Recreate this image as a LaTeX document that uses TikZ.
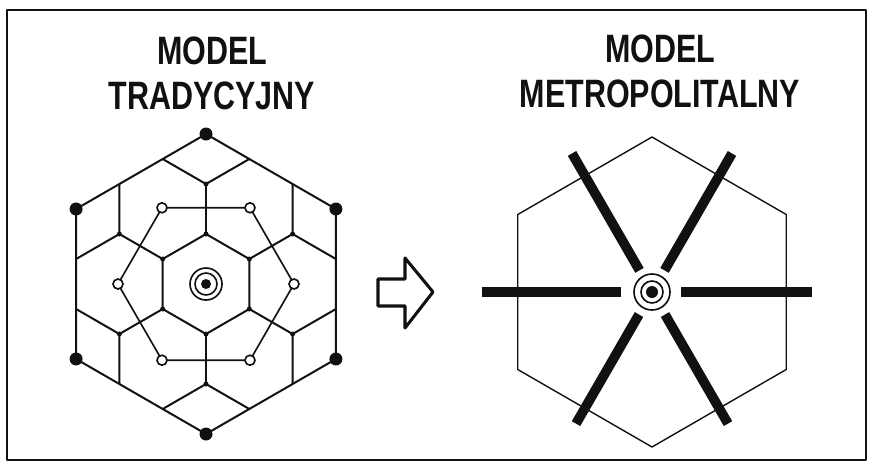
\documentclass[tikz,border=0pt]{standalone}
\usepackage{fontspec}
\setmainfont{Liberation Sans}
\usepackage{tikz}
\usetikzlibrary{calc}
\definecolor{sketchInk}{HTML}{111111}

\begin{document}
\begin{tikzpicture}[x=0.03cm,y=-0.03cm,line join=round,color=sketchInk,
    font=\fontsize{26}{29.5}\selectfont\bfseries,
    grid/.style={line width=1.7pt},
    ring/.style={line width=1.4pt},
    thinhex/.style={line width=1.2pt},
    road/.style={line width=8.3pt},
    title/.style={align=center,inner sep=0pt,yscale=1.3,transform shape}]
  \useasboundingbox (0,0) rectangle (871,466);
  \draw[line width=1.1pt] (7,10) rectangle (866,460);

  % titles
  \node[title] (lefttitle) at (212,73) {MODEL\\TRADYCYJNY};
  \node[title] (righttitle) at (660,71) {MODEL\\METROPOLITALNY};

  % traditional model: honeycomb clipped by the big hexagon
  \coordinate (lc) at (206,284);
  \foreach \k in {0,...,5}{
    \coordinate (in\k) at ($(lc)+(90+60*\k:50)$);
    \coordinate (mid\k) at ($(lc)+(90+60*\k:100)$);
    \coordinate (bl\k) at ($(lc)+(90+60*\k-19.107:132.29)$);
    \coordinate (br\k) at ($(lc)+(90+60*\k+19.107:132.29)$);
    \coordinate (out\k) at ($(lc)+(90+60*\k:150)$);
    \coordinate (town\k) at ($(lc)+(60*\k:88)$);
  }
  \draw[grid] (out0) -- (out1) -- (out2) -- (out3) -- (out4) -- (out5) -- cycle;
  \draw[grid] (in0) -- (in1) -- (in2) -- (in3) -- (in4) -- (in5) -- cycle;
  \foreach \k in {0,...,5}
    \draw[grid] (bl\k) -- (mid\k) -- (br\k) (mid\k) -- (in\k);
  \draw[ring] (town0) -- (town1) -- (town2) -- (town3) -- (town4) -- (town5) -- cycle;
  \foreach \k in {0,...,5}{
    \fill (out\k) circle[radius=6.5];
    \fill (in\k) circle[radius=2.5];
    \fill (mid\k) circle[radius=2.5];
    \draw[ring,fill=white] (town\k) circle[radius=5];
  }
  \fill (lc) circle[radius=5];
  \draw[ring] (lc) circle[radius=11] (lc) circle[radius=16];

  % hollow arrow
  \draw[line width=2.6pt] (378,279) -- (405,279) -- (405,258) -- (433,292)
    -- (405,328) -- (405,306) -- (378,306) -- cycle;

  % metropolitan model
  \coordinate (rc) at (652,292);
  \foreach \k in {0,...,5}
    \coordinate (hc\k) at ($(rc)+(90+60*\k:155)$);
  \draw[thinhex] (hc0) -- (hc1) -- (hc2) -- (hc3) -- (hc4) -- (hc5) -- cycle;
  \foreach \a/\s/\e [count=\i] in {180/31/170,0/29/160,240/25/160,300/25/160,120/26/152,60/26/152}{
    \coordinate (roadin\i) at ($(rc)+(\a:\s)$);
    \coordinate (roadout\i) at ($(rc)+(\a:\e)$);
    \draw[road] (roadin\i) -- (roadout\i);
  }
  \fill (rc) circle[radius=6];
  \draw[ring] (rc) circle[radius=11] (rc) circle[radius=18];
\end{tikzpicture}
\end{document}
